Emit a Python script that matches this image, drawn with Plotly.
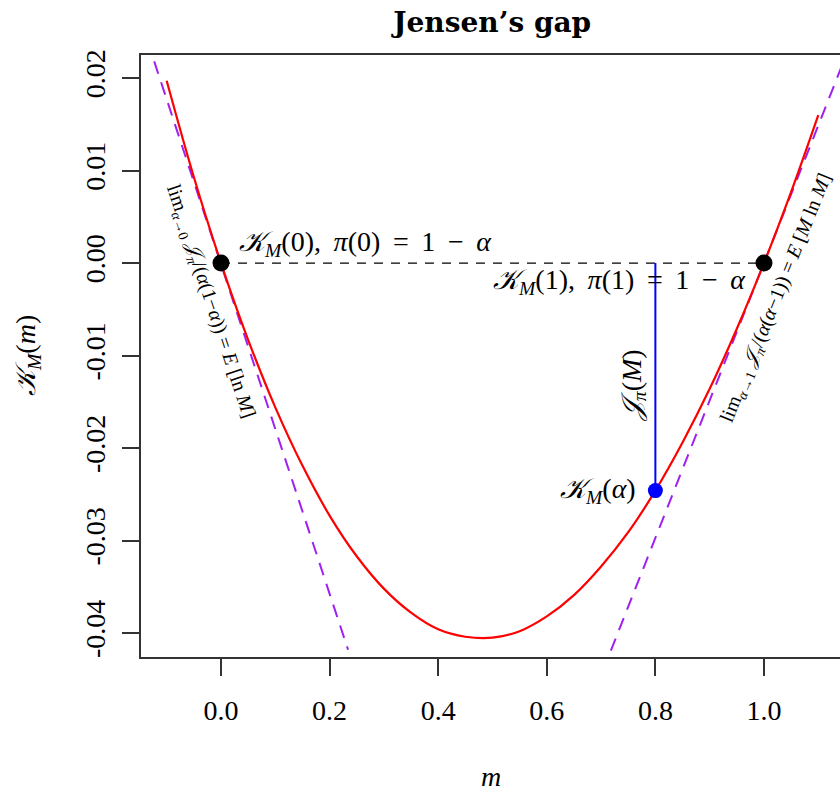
import plotly.graph_objects as go

# Cumulant generating function K_M(m) read at evenly spaced m
m_grid = [-0.10, -0.05, 0.00, 0.05, 0.10, 0.15, 0.20, 0.25, 0.30, 0.35, 0.40, 0.45,
          0.50, 0.55, 0.60, 0.65, 0.70, 0.75, 0.80, 0.85, 0.90, 0.95, 1.00, 1.05, 1.10]
k_vals = [0.0197, 0.0093, 0.0000, -0.0083, -0.0156, -0.0219, -0.0273, -0.0317, -0.0352,
          -0.0378, -0.0396, -0.0404, -0.0405, -0.0398, -0.0382, -0.0359, -0.0328, -0.0291,
          -0.0246, -0.0194, -0.0136, -0.0071, 0.0000, 0.0077, 0.0160]

# Tangent lines at m = 0 (slope E[ln M]) and m = 1 (slope E[M ln M])
tan0_m = [-0.123, 0.234]
tan0_k = [0.0218, -0.0418]
tan1_m = [0.718, 1.148]
tan1_k = [-0.0419, 0.0220]

# End points K_M(0) = K_M(1) = 0 and the point at alpha
end_m = [0.0, 1.0]
end_k = [0.0, 0.0]
alpha = 0.80
k_alpha = -0.0246

x_ticks = [0.0, 0.2, 0.4, 0.6, 0.8, 1.0]
x_tick_text = ["0.0", "0.2", "0.4", "0.6", "0.8", "1.0"]
y_ticks = [-0.04, -0.03, -0.02, -0.01, 0.00, 0.01, 0.02]
y_tick_text = ["-0.04", "-0.03", "-0.02", "-0.01", "0.00", "0.01", "0.02"]

SERIF = "Liberation Serif"
PURPLE = "#A020F0"
TS = "\u2009"  # thin space for math-like spacing

fig = go.Figure()

# dashed chord between the two end points
fig.add_trace(go.Scatter(x=end_m, y=end_k, mode="lines",
                         line=dict(color="black", width=1.2, dash="9px,8px"),
                         hoverinfo="skip"))
# tangents
fig.add_trace(go.Scatter(x=tan0_m, y=tan0_k, mode="lines",
                         line=dict(color=PURPLE, width=2, dash="13px,9px"),
                         hoverinfo="skip"))
fig.add_trace(go.Scatter(x=tan1_m, y=tan1_k, mode="lines",
                         line=dict(color=PURPLE, width=2, dash="13px,9px"),
                         hoverinfo="skip"))
# the curve
fig.add_trace(go.Scatter(x=m_grid, y=k_vals, mode="lines",
                         line=dict(color="#FF0000", width=2.2, shape="spline"),
                         hoverinfo="skip"))
# gap at alpha
fig.add_trace(go.Scatter(x=[alpha, alpha], y=[0.0, k_alpha], mode="lines",
                         line=dict(color="#0000FF", width=2),
                         hoverinfo="skip"))
fig.add_trace(go.Scatter(x=end_m, y=end_k, mode="markers",
                         marker=dict(color="black", size=17),
                         hoverinfo="skip"))
fig.add_trace(go.Scatter(x=[alpha], y=[k_alpha], mode="markers",
                         marker=dict(color="#0000FF", size=15),
                         hoverinfo="skip"))

K = "<i>𝒦</i>"
ann_font = dict(family=SERIF, size=28, color="black")
small_font = dict(family=SERIF, size=20, color="black")
EQ = f" {TS}={TS} "
MINUS = f" {TS}−{TS} "

annotations = [
    dict(x=end_m[0], y=end_k[0], xshift=16, yshift=20, xanchor="left", yanchor="middle",
         text=f"{K}<sub><i>M</i></sub>(0),{TS} <i>π</i>(0){EQ}1{MINUS}<i>α</i>", font=ann_font),
    dict(x=end_m[1], y=end_k[1], xshift=-16, yshift=-18, xanchor="right", yanchor="middle",
         text=f"{K}<sub><i>M</i></sub>(1),{TS} <i>π</i>(1){EQ}1{MINUS}<i>α</i>", font=ann_font),
    dict(x=alpha, y=k_alpha, xshift=-17, xanchor="right", yanchor="middle",
         text=f"{K}<sub><i>M</i></sub>(<i>α</i>)", font=ann_font),
    dict(x=alpha, y=k_alpha / 2, xshift=-22, yshift=-9, xanchor="center", yanchor="middle",
         textangle=-90, text="<i>𝒥</i><sub><i>π</i></sub>(<i>M</i>)", font=ann_font),
    dict(x=end_m[0], y=end_k[0], xshift=-10, yshift=-39, xanchor="center", yanchor="middle",
         textangle=71.7,
         text="lim<sub><i>α</i>→0</sub> <i>𝒥</i><sub><i>π</i></sub>/(<i>α</i>(1−<i>α</i>)) = <i>E</i> [ln <i>M</i>]",
         font=small_font),
    dict(x=end_m[1], y=end_k[1], xshift=12, yshift=-35, xanchor="center", yanchor="middle",
         textangle=-68,
         text="lim<sub><i>α</i>→1</sub> <i>𝒥</i><sub><i>π</i></sub>/(<i>α</i>(<i>α</i>−1)) = <i>E</i> [<i>M</i> ln <i>M</i>]",
         font=small_font),
    # axis titles
    dict(xref="paper", yref="paper", x=0.5, y=0, yshift=-119, xanchor="center", yanchor="middle",
         text="<i>m</i>", font=ann_font),
    dict(xref="paper", yref="paper", x=0, y=0.5, xshift=-114, xanchor="center", yanchor="middle",
         textangle=-90, text=f"{K}<sub><i>M</i></sub>(<i>m</i>)", font=ann_font),
]
for a in annotations:
    a["showarrow"] = False

fig.update_layout(
    width=840, height=792,
    margin=dict(l=141, r=0, t=55, b=135),
    paper_bgcolor="white", plot_bgcolor="white",
    showlegend=False,
    font=dict(family=SERIF, size=28, color="black"),
    title=dict(text="<b>Jensen’s gap</b>", xref="paper", x=0.5025, xanchor="center",
               yref="container", y=1 - 22 / 792, yanchor="middle",
               font=dict(family="DejaVu Serif", size=28, color="black")),
    annotations=annotations,
)
fig.update_xaxes(range=[-0.1473, 1.1400], tickvals=x_ticks, ticktext=x_tick_text,
                 showgrid=False, zeroline=False, showline=True, mirror=True,
                 linecolor="#333", linewidth=1.5, ticks="outside", ticklen=17,
                 tickwidth=1.5, tickcolor="#333", ticklabelstandoff=11,
                 tickfont=dict(family=SERIF, size=28, color="black"))
fig.update_yaxes(range=[-0.04259, 0.02249], tickvals=y_ticks, ticktext=y_tick_text,
                 showgrid=False, zeroline=False, showline=True, mirror=False,
                 linecolor="#333", linewidth=1.5, ticks="outside", ticklen=17,
                 tickwidth=1.5, tickcolor="#333", tickangle=-90, ticklabelstandoff=6,
                 tickfont=dict(family=SERIF, size=28, color="black"))

fig.write_html("out.html")
